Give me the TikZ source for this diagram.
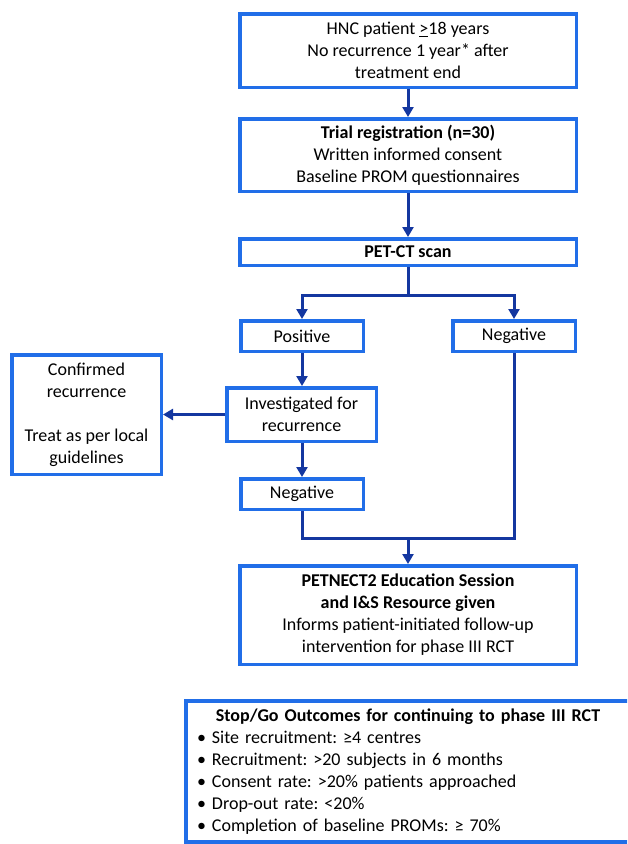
\documentclass[tikz,border=0pt]{standalone}
\usepackage{fontspec}
\setmainfont{Carlito}
\usetikzlibrary{arrows.meta}
\definecolor{boxblue}{RGB}{33,110,232}
\definecolor{navy}{RGB}{20,55,160}
\frenchspacing
\begin{document}
\begin{tikzpicture}[x=1pt,y=-1pt,
  box/.style={draw=boxblue, line width=3.5pt, fill=white, inner sep=0pt, align=center,
    font=\fontsize{18}{22}\selectfont, text=black},
  conn/.style={draw=navy, line width=3pt},
  arr/.style={conn, -{Triangle[length=10pt,width=11pt]}},
]
\useasboundingbox (0,0) rectangle (627,844);
\begin{scope}
\clip (0,0) rectangle (627,844);
\node[box, minimum width=336.5pt, minimum height=73.5pt] (b1) at (408,50.5)
  {HNC patient \underline{>}18 years\\No recurrence 1 year* after\\treatment end};
\node[box, minimum width=336.5pt, minimum height=72.5pt] (b2) at (408,155)
  {\textbf{Trial registration (n=30)}\\Written informed consent\\Baseline PROM questionnaires};
\node[box, minimum width=336.5pt, minimum height=26.5pt] (b3) at (408,252)
  {\textbf{PET-CT scan}};
\node[box, minimum width=122.5pt, minimum height=30.5pt] (pos) at (302,336) {Positive};
\node[box, minimum width=122.5pt, minimum height=30.5pt] (negR) at (514,336) {Negative};
\node[box, minimum width=149.5pt, minimum height=53.5pt] (inv) at (301.5,414.5)
  {Investigated for\\recurrence};
\node[box, minimum width=149.5pt, minimum height=119.5pt] (conf) at (86.5,414.5)
  {Confirmed\\recurrence\\[22pt]Treat as per local\\guidelines};
\node[box, minimum width=122.5pt, minimum height=30.5pt] (negL) at (302,494) {Negative};
\node[box, minimum width=336.5pt, minimum height=98.5pt] (pet) at (408,615)
  {\textbf{PETNECT2 Education Session}\\\textbf{and I\&S Resource given}\\Informs patient-initiated follow-up\\intervention for phase III RCT};
\node[box, minimum width=444.5pt, minimum height=141pt, align=left, text width=422pt,
  inner xsep=11.25pt] (stop) at (408,771.5)
  {{\centering\bfseries Stop/Go Outcomes for continuing to phase III RCT\par}
   \textbullet\ Site recruitment: ≥4 centres\\
   \textbullet\ Recruitment: >20 subjects in 6 months\\
   \textbullet\ Consent rate: >20\% patients approached\\
   \textbullet\ Drop-out rate: <20\%\\
   \textbullet\ Completion of baseline PROMs: ≥ 70\%};
\coordinate (split) at (408,295);
\coordinate (join) at (408,538);
\draw[arr] (b1) -- (b2);
\draw[arr] (b2) -- (b3);
\draw[conn] (b3.south) -- (split);
\draw[arr] (split) -| (pos.north);
\draw[arr] (split) -| (negR.north);
\draw[arr] (pos.south) -- (pos.south |- inv.north);
\draw[arr] (inv.west) -- (conf.east);
\draw[arr] (negL.north |- inv.south) -- (negL.north);
\draw[conn] (negL.south) |- (join);
\draw[conn] (negR.south) |- (join);
\draw[arr] (join) -- (pet.north);
\end{scope}
\end{tikzpicture}
\end{document}
